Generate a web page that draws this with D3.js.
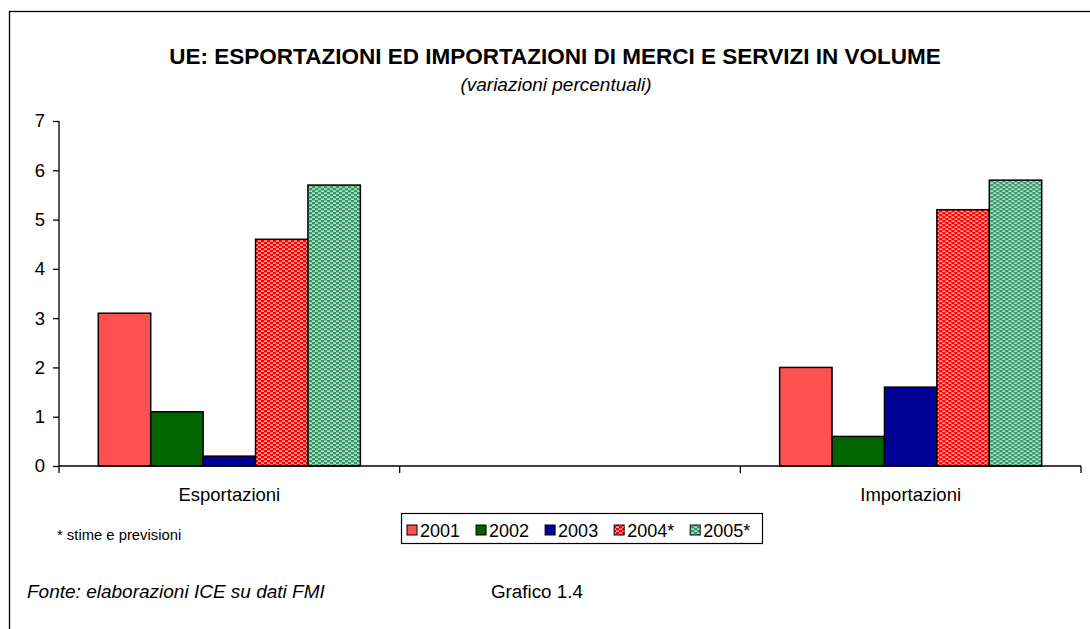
<!DOCTYPE html>
<html lang="it">
  <head>
    <meta charset="utf-8">
    <title>UE: esportazioni ed importazioni</title>
    <style>
      html, body { margin: 0; padding: 0; background: #fff; }
      svg { display: block; font-family: "Liberation Sans", Arial, sans-serif; }
      .axis path, .axis line { stroke: #000; stroke-width: 1.3; }
      .axis text { font-size: 18.5px; fill: #000; }
    </style>
  </head>
  <body>
    <script src="https://d3js.org/d3.v7.min.js"></script>
    <script>
      // data
      const categories = ["Esportazioni", "", "Importazioni"];
      const years = ["2001", "2002", "2003", "2004*", "2005*"];
      const v2001 = [3.1, null, 2.0];
      const v2002 = [1.1, null, 0.6];
      const v2003 = [0.2, null, 1.6];
      const v2004 = [4.6, null, 5.2];
      const v2005 = [5.7, null, 5.8];
      const yTicks = [0, 1, 2, 3, 4, 5, 6, 7];

      const seriesValues = [v2001, v2002, v2003, v2004, v2005];
      const fills = ["#ff5050", "#006400", "#000096", "url(#pat2004)", "url(#pat2005)"];

      const w = 1090, h = 629;
      const plotLeft = 59, plotRight = 1081, plotTop = 121, plotBottom = 466;

      const svg = d3.select("body").append("svg")
        .attr("width", w)
        .attr("height", h);

      // patterns for estimated years
      const defs = svg.append("defs");
      function dotPattern(id, base) {
        const p = defs.append("pattern")
          .attr("id", id)
          .attr("patternUnits", "userSpaceOnUse")
          .attr("width", 6)
          .attr("height", 4);
        p.append("rect").attr("width", 6).attr("height", 4).attr("fill", base);
        p.append("rect").attr("x", 1).attr("y", 0.5).attr("width", 3).attr("height", 1.2).attr("fill", "#fff").attr("opacity", 0.9);
        p.append("rect").attr("x", 4).attr("y", 2.5).attr("width", 3).attr("height", 1.2).attr("fill", "#fff").attr("opacity", 0.9);
        p.append("rect").attr("x", -2).attr("y", 2.5).attr("width", 3).attr("height", 1.2).attr("fill", "#fff").attr("opacity", 0.9);
      }
      dotPattern("pat2004", "#ff0000");
      dotPattern("pat2005", "#339966");

      // outer frame
      svg.append("rect")
        .attr("x", 9.5).attr("y", 11.5)
        .attr("width", 1200).attr("height", 800)
        .attr("fill", "none")
        .attr("stroke", "#000")
        .attr("stroke-width", 1.3);

      // titles
      svg.append("text")
        .attr("x", 555).attr("y", 64)
        .attr("text-anchor", "middle")
        .attr("font-size", "22.5px")
        .attr("font-weight", "bold")
        .text("UE: ESPORTAZIONI ED IMPORTAZIONI DI MERCI E SERVIZI IN VOLUME");

      svg.append("text")
        .attr("x", 556).attr("y", 91)
        .attr("text-anchor", "middle")
        .attr("font-size", "19px")
        .attr("font-style", "italic")
        .text("(variazioni percentuali)");

      // scales
      const x0 = d3.scaleBand()
        .domain(d3.range(categories.length))
        .range([plotLeft, plotRight]);

      const x1 = d3.scaleBand()
        .domain(d3.range(years.length))
        .range([0, x0.bandwidth()])
        .paddingOuter(0.75)
        .paddingInner(0);

      const y = d3.scaleLinear()
        .domain([0, 7])
        .range([plotBottom, plotTop]);

      // bars
      const groups = svg.append("g").selectAll("g")
        .data(categories.map((c, i) => i))
        .join("g")
        .attr("transform", i => `translate(${x0(i)},0)`);

      groups.selectAll("rect")
        .data(i => seriesValues.map((s, j) => ({ j: j, v: s[i] })).filter(d => d.v != null))
        .join("rect")
        .attr("x", d => x1(d.j))
        .attr("width", x1.bandwidth())
        .attr("y", d => y(d.v))
        .attr("height", d => y(0) - y(d.v))
        .attr("fill", d => fills[d.j])
        .attr("stroke", "#000")
        .attr("stroke-width", 1.5);

      // axes
      svg.append("g")
        .attr("class", "axis")
        .attr("transform", `translate(${plotLeft},0)`)
        .call(d3.axisLeft(y).tickValues(yTicks).tickSize(6).tickPadding(8).tickFormat(d3.format("d")))
        .call(g => g.select(".domain").attr("d", `M0,${plotTop}V${plotBottom}`));

      const xAxis = svg.append("g")
        .attr("class", "axis")
        .attr("transform", `translate(0,${plotBottom})`);
      xAxis.append("line")
        .attr("x1", plotLeft).attr("x2", plotRight);
      xAxis.selectAll("line.tk")
        .data(d3.range(categories.length + 1))
        .join("line")
        .attr("class", "tk")
        .attr("x1", i => plotLeft + i * x0.step())
        .attr("x2", i => plotLeft + i * x0.step())
        .attr("y1", 0).attr("y2", 7);
      xAxis.selectAll("text")
        .data(categories)
        .join("text")
        .attr("x", (d, i) => x0(i) + x0.bandwidth() / 2)
        .attr("y", 35)
        .attr("text-anchor", "middle")
        .text(d => d);

      // legend
      const legend = svg.append("g");
      legend.append("rect")
        .attr("x", 401.5).attr("y", 513.5)
        .attr("width", 361).attr("height", 30)
        .attr("fill", "#fff")
        .attr("stroke", "#000")
        .attr("stroke-width", 1.2);

      let lx = 407;
      years.forEach((yr, j) => {
        legend.append("rect")
          .attr("x", lx).attr("y", 525)
          .attr("width", 10).attr("height", 10)
          .attr("fill", fills[j])
          .attr("stroke", "#000")
          .attr("stroke-width", 1);
        const t = legend.append("text")
          .attr("x", lx + 13).attr("y", 537)
          .attr("font-size", "18px")
          .text(yr);
        lx += 13 + t.node().getComputedTextLength() + 16;
      });

      // notes
      svg.append("text")
        .attr("x", 57).attr("y", 540)
        .attr("font-size", "14.8px")
        .text("* stime e previsioni");

      svg.append("text")
        .attr("x", 27).attr("y", 598)
        .attr("font-size", "19px")
        .attr("font-style", "italic")
        .text("Fonte: elaborazioni ICE su dati FMI");

      svg.append("text")
        .attr("x", 491).attr("y", 598)
        .attr("font-size", "18.8px")
        .text("Grafico 1.4");
    </script>
  </body>
</html>
